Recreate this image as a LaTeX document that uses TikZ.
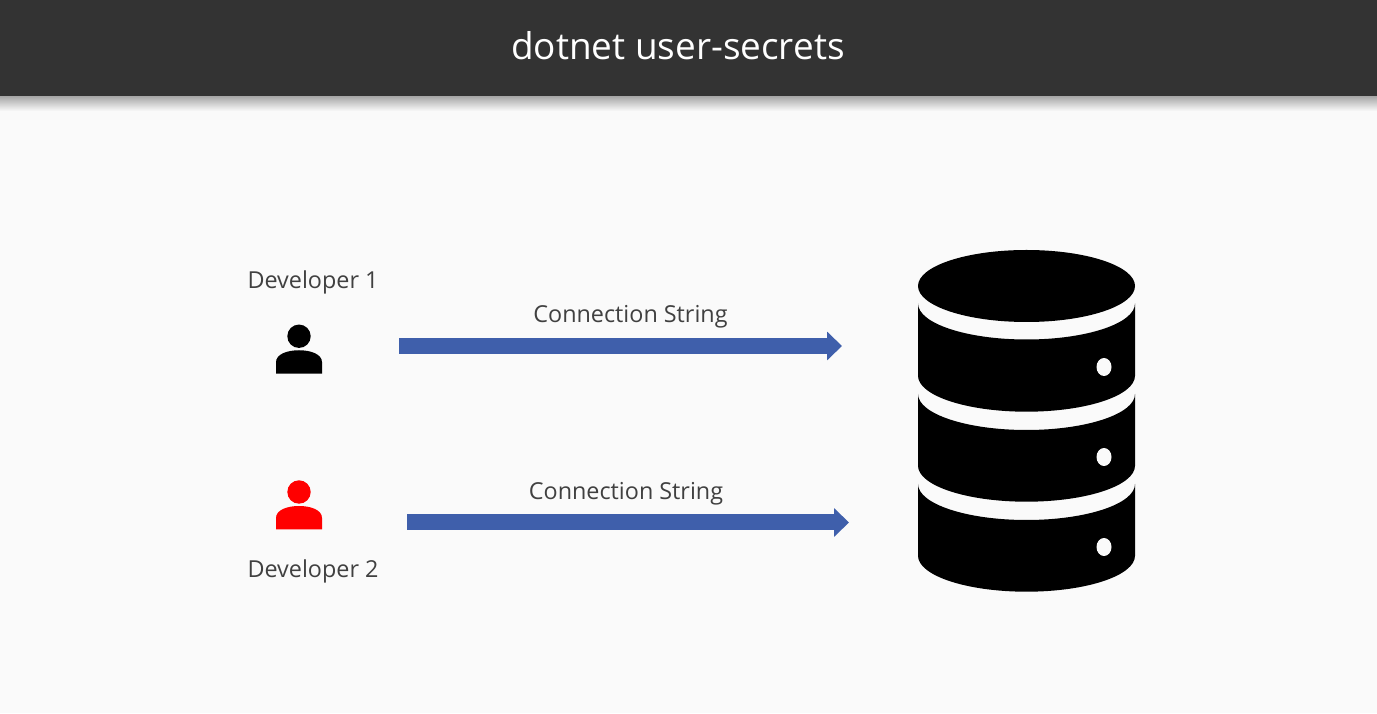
\documentclass[tikz,border=0pt]{standalone}
\usepackage{fontspec}
\setmainfont{Open Sans}
\usepackage{tikz}
\usetikzlibrary{positioning,arrows.meta}
\definecolor{slidebg}{HTML}{FAFAFA}
\definecolor{barcol}{HTML}{333333}
\definecolor{textcol}{HTML}{404040}
\definecolor{flowcol}{HTML}{3F5FAB}
\tikzset{
  textlabel/.style={font=\fontsize{6.65pt}{8pt}\selectfont,text=textcol},
  iconbox/.style={minimum width=0.46cm,minimum height=0.49cm,inner sep=0pt,outer sep=0pt},
  flow/.style={draw=flowcol,line width=0.16cm,-{Triangle[length=0.15cm,width=0.28cm]}}
}
\begin{document}
\begin{tikzpicture}
    \useasboundingbox (0,0) rectangle (13.77,7.13);
    \fill[slidebg] (0,0) rectangle (13.77,7.13);
    % header
    \shade[top color=black!35,bottom color=slidebg] (0,6.02) rectangle (13.77,6.17);
    \fill[barcol] (0,6.17) rectangle (13.77,7.13);
    \node[font=\fontsize{10.5pt}{12pt}\selectfont,text=white] (title) at (6.78,6.67) {dotnet user-secrets};
    % developers
    \foreach \n/\c/\y in {devone/black/3.6375,devtwo/red/2.08} {
      \node[iconbox] (\n) at (2.99,\y) {};
      \begin{scope}[shift={(\n.center)}]
        \fill[\c] (0,0.13) circle (0.117);
        \fill[\c] (-0.23,-0.245) -- (-0.23,-0.13) .. controls (-0.23,-0.05) and (-0.12,-0.01) .. (0,-0.01)
          .. controls (0.12,-0.01) and (0.23,-0.05) .. (0.23,-0.13) -- (0.23,-0.245) -- cycle;
      \end{scope}
    }
    \node[textlabel] (nameone) at (3.13,4.31) {Developer 1};
    \node[textlabel] (nametwo) at (3.13,1.42) {Developer 2};
    % database
    \node[minimum width=2.17cm,minimum height=3.42cm,inner sep=0pt,outer sep=0pt] (dbicon) at (10.265,2.92) {};
    \fill[black] (10.265,4.27) ellipse (1.085 and 0.36);
    \foreach \a/\b/\d in {4.095/3.373/3.46,3.19/2.473/2.56,2.29/1.573/1.66} {
      \fill[black] (9.18,\a) -- (9.18,\b) arc[start angle=180,end angle=360,x radius=1.085,y radius=0.36]
        -- (11.35,\a) arc[start angle=360,end angle=180,x radius=1.085,y radius=0.36] -- cycle;
      \fill[slidebg] (11.04,\d) ellipse (0.075 and 0.09);
    }
    % arrows
    \draw[flow,shorten <=0.77cm,shorten >=0.76cm] ([yshift=0.0325cm]devone.east) -- ([yshift=0.0325cm]devone.east -| dbicon.west);
    \draw[flow,shorten <=0.85cm,shorten >=0.69cm] ([yshift=-0.175cm]devtwo.east) -- ([yshift=-0.175cm]devtwo.east -| dbicon.west);
    \node[textlabel] (connone) at (6.305,3.96) {Connection String};
    \node[textlabel] (conntwo) at (6.26,2.19) {Connection String};
\end{tikzpicture}
\end{document}
